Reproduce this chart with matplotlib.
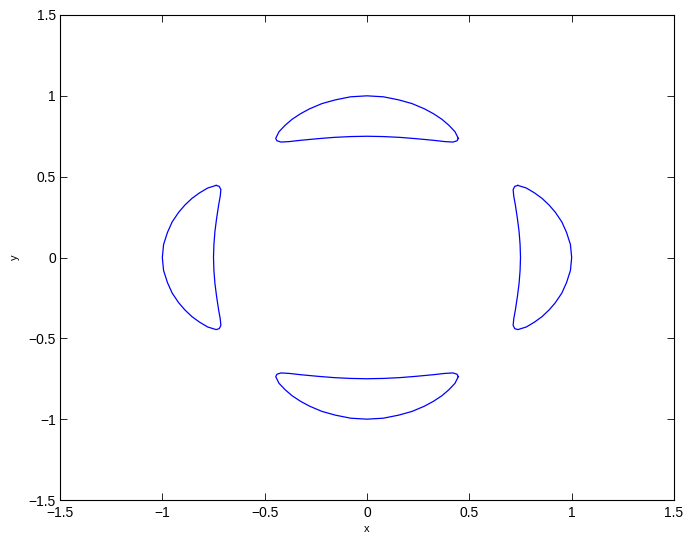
import numpy as np
import matplotlib
matplotlib.use("Agg")
import matplotlib.pyplot as plt

# profile of one crescent (the top one):
# "along" runs along the crescent, "radial" is the distance from the centre
along = [0.446, 0.43, 0.40, 0.366, 0.324, 0.28, 0.22, 0.155, 0.08, 0.0,
         -0.08, -0.155, -0.22, -0.28, -0.324, -0.366, -0.40, -0.43, -0.446,
         -0.44, -0.42, -0.38, -0.324, -0.24, -0.161, -0.08, 0.0,
         0.08, 0.161, 0.24, 0.324, 0.38, 0.42, 0.44, 0.446]
radial = [0.737, 0.778, 0.818, 0.855, 0.89, 0.92, 0.952, 0.975, 0.994, 1.0,
          0.994, 0.975, 0.952, 0.92, 0.89, 0.855, 0.818, 0.778, 0.737,
          0.722, 0.714, 0.717, 0.725, 0.735, 0.743, 0.748, 0.75,
          0.748, 0.743, 0.735, 0.725, 0.717, 0.714, 0.722, 0.737]

ticks = [-1.5, -1, -0.5, 0, 0.5, 1, 1.5]
tick_labels = ['\u22121.5', '\u22121', '\u22120.5', '0', '0.5', '1', '1.5']

plt.rcParams['font.family'] = ['Liberation Sans', 'DejaVu Sans']

fig = plt.figure(figsize=(6.83, 5.33), dpi=100)
ax = fig.add_axes([60 / 683, 33 / 533, 614 / 683, 485 / 533])

a = np.array(along)
r = np.array(radial)
# top, bottom, right, left
for xs, ys in [(a, r), (a, -r), (r, a), (-r, a)]:
    ax.plot(xs, ys, color='#0000ff', lw=0.9)

ax.set_xlim(-1.5, 1.5)
ax.set_ylim(-1.5, 1.5)
ax.set_xticks(ticks)
ax.set_xticklabels(tick_labels)
ax.set_yticks(ticks)
ax.set_yticklabels(tick_labels)
ax.tick_params(direction='in', top=True, right=True, labelsize=10, length=5, width=0.6)
ax.tick_params(axis='x', pad=4)
ax.tick_params(axis='y', pad=3)
for s in ax.spines.values():
    s.set_linewidth(0.8)
ax.set_xlabel('x', fontsize=8, labelpad=3)
ax.set_ylabel('y', fontsize=8, labelpad=6)

fig.savefig('out.png', dpi=100)
